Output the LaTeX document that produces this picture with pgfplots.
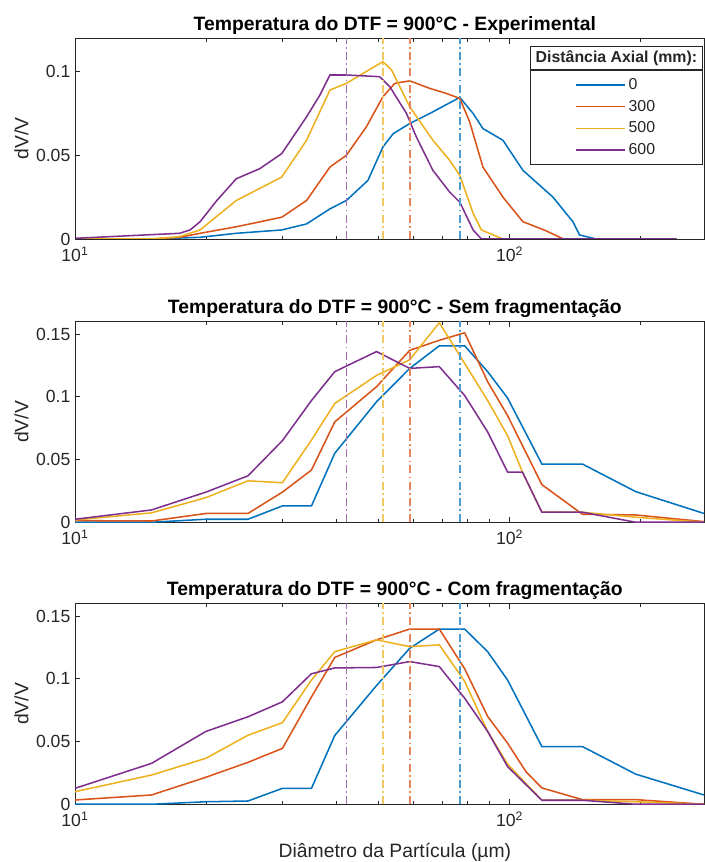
\documentclass[border=0pt]{standalone}
\usepackage{fontspec}
\setmainfont{Liberation Sans}
\usepackage{pgfplots}
\pgfplotsset{compat=1.18}

\definecolor{axcol}{rgb}{0.15,0.15,0.15}
\definecolor{mblue}{RGB}{0,114,189}
\definecolor{morange}{RGB}{217,83,25}
\definecolor{myellow}{RGB}{237,177,32}
\definecolor{mpurple}{RGB}{126,47,142}

\pgfplotsset{
  scale only axis, width=471.75pt, height=150.6pt,
  xmin=10, xmax=280, ymin=0,
  axis line style={axcol, line width=0.5pt},
  tick style={axcol, line width=0.5pt},
  tick align=inside,
  xtick={10,100}, xticklabels={10\textsuperscript{1},10\textsuperscript{2}},
  minor xtick={20,30,40,50,60,70,80,90,200},
  xtick pos=both, ytick pos=left,
  major tick length=4pt, minor tick length=2.5pt,
  ticklabel style={font=\fontsize{13.2}{15}\selectfont, text=axcol},
  xticklabel style={yshift=-2.5pt},
  title style={font=\bfseries\fontsize{14.5}{16}\selectfont, yshift=-7pt, xshift=4pt},
  ylabel style={font=\fontsize{14.5}{16}\selectfont, text=axcol,
    at={(axis description cs:-0.085,0.5)}, anchor=center},
}
\tikzset{
  ser/.style={line width=1.15pt, color=#1},
  vl/.style={line width=1.2pt, color=#1!70!white,
    dash pattern=on 6pt off 2.5pt on 1.2pt off 2.5pt},
}

\begin{document}
\begin{tikzpicture}

% ---- Experimental
\begin{semilogxaxis}[anchor=south west, at={(56.25pt,467.25pt)},
  ymax=0.12, ytick={0,0.05,0.1}, yticklabels={0,0.05,0.1},
  ylabel={dV/V},
  title={Temperatura do DTF = 900°C - Experimental},
  legend style={at={(rel axis cs:0.998,0.8408)}, anchor=north east,
    draw=axcol, line width=0.5pt, fill=white,
    minimum width=129pt, minimum height=70.5pt,
    font=\fontsize{11.9}{13}\selectfont, text=axcol, row sep=2pt,
    nodes={minimum width=0pt, minimum height=14.25pt, inner xsep=2pt, inner ysep=0pt}},
  legend cell align=left,
  legend image code/.code={\draw[#1] (0pt,0pt) -- (37pt,0pt);},
]
\addplot[ser=mblue, mark=none] coordinates {(10,0) (15,0) (19.4,0.001) (23.5,0.0034) (29.9,0.0054) (34.1,0.009) (38.6,0.018) (42.1,0.023) (47.2,0.035) (51.1,0.055) (54,0.063) (58.9,0.069) (65.5,0.075) (76.8,0.0846) (82.4,0.075) (86.8,0.066) (96.5,0.059) (107.3,0.041) (125.8,0.025) (139.8,0.0103) (144.8,0.0024) (158.2,0) (241.7,0)};
\addplot[ser=morange, mark=none] coordinates {(10,0) (15,0) (17.4,0.001) (19.4,0.0034) (23.5,0.0073) (29.9,0.013) (34.1,0.023) (38.6,0.043) (42.1,0.050) (46.8,0.067) (51.1,0.085) (54.4,0.093) (58.9,0.0945) (65.5,0.09) (71.5,0.087) (76.8,0.084) (80.9,0.07) (86.8,0.043) (96.5,0.025) (107.3,0.0103) (120,0.0054) (133,0) (241.7,0)};
\addplot[ser=myellow, mark=none] coordinates {(10,0) (15,0) (17.4,0.0014) (19.4,0.0054) (23.5,0.023) (29.9,0.037) (34.1,0.059) (38.6,0.089) (42.1,0.093) (51.1,0.106) (53.5,0.101) (58.9,0.079) (66.6,0.059) (72.8,0.047) (76.8,0.038) (82.4,0.0153) (86.1,0.0054) (96.5,0) (241.7,0)};
\addplot[ser=mpurple, mark=none] coordinates {(10,0.0004) (17.4,0.0034) (18.4,0.0054) (19.4,0.0103) (21.2,0.023) (23.5,0.036) (26.6,0.042) (29.9,0.051) (34.1,0.073) (36.6,0.086) (38.6,0.098) (42.1,0.098) (50.2,0.097) (53,0.091) (57.9,0.075) (61,0.061) (66.6,0.041) (72.8,0.028) (76.8,0.022) (82.4,0.0054) (86.1,0) (241.7,0)};
\addplot[vl=mblue, mark=none, forget plot] coordinates {(76.8,0) (76.8,0.12)};
\addplot[vl=morange, mark=none, forget plot] coordinates {(58.9,0) (58.9,0.12)};
\addplot[vl=myellow, mark=none, forget plot] coordinates {(51.1,0) (51.1,0.12)};
\addplot[vl=mpurple, mark=none, forget plot] coordinates {(42.1,0) (42.1,0.12)};
\legend{0,300,500,600}
\node[draw=axcol, line width=0.5pt, fill=white, minimum width=129pt, minimum height=17.5pt,
  inner sep=0pt, anchor=south east, text=axcol, font=\bfseries\fontsize{11.9}{13}\selectfont]
  at (rel axis cs:0.998,0.8408) {Distância Axial (mm):};
\end{semilogxaxis}

% ---- Sem fragmentacao
\begin{semilogxaxis}[anchor=south west, at={(56.25pt,254.8pt)},
  ymax=0.16, ytick={0,0.05,0.1,0.15}, yticklabels={0,0.05,0.1,0.15},
  ylabel={dV/V},
  title={Temperatura do DTF = 900°C - Sem fragmentação},
]
\addplot[ser=mblue, mark=none] coordinates {(10,0) (15,0) (20,0.0024) (25,0.0024) (30,0.013) (35,0.013) (39.6,0.055) (49.4,0.096) (58.9,0.1226) (68.9,0.1406) (78.8,0.1406) (89,0.12) (98.9,0.099) (118.6,0.0464) (147,0.0464) (195,0.0244) (280,0.007)};
\addplot[ser=morange, mark=none] coordinates {(10,0.0013) (15,0.001) (20,0.007) (25,0.007) (30,0.024) (35,0.0416) (39.6,0.08) (49.4,0.108) (58.9,0.137) (68.9,0.145) (78.8,0.151) (89,0.112) (98.9,0.085) (118.6,0.030) (147,0.0064) (195,0.0058) (280,0.0005)};
\addplot[ser=myellow, mark=none] coordinates {(10,0.0018) (15,0.0075) (20,0.0196) (25,0.033) (30,0.0315) (35,0.0655) (39.6,0.0947) (49.4,0.117) (58.9,0.1295) (68.9,0.159) (78.8,0.1266) (89,0.097) (98.9,0.069) (107,0.040) (118.6,0.008) (147,0.008) (195,0.004) (280,0)};
\addplot[ser=mpurple, mark=none] coordinates {(10,0.0024) (15,0.0098) (20,0.024) (25,0.037) (30,0.065) (35,0.097) (39.6,0.120) (49.4,0.136) (58.9,0.1226) (68.9,0.124) (78.8,0.101) (89,0.072) (98.9,0.040) (107,0.040) (118.6,0.008) (147,0.008) (195,0) (280,0)};
\addplot[vl=mblue, mark=none, forget plot] coordinates {(76.8,0) (76.8,0.16)};
\addplot[vl=morange, mark=none, forget plot] coordinates {(58.9,0) (58.9,0.16)};
\addplot[vl=myellow, mark=none, forget plot] coordinates {(51.1,0) (51.1,0.16)};
\addplot[vl=mpurple, mark=none, forget plot] coordinates {(42.1,0) (42.1,0.16)};
\end{semilogxaxis}

% ---- Com fragmentacao
\begin{semilogxaxis}[anchor=south west, at={(56.25pt,43.3pt)},
  ymax=0.16, ytick={0,0.05,0.1,0.15}, yticklabels={0,0.05,0.1,0.15},
  ylabel={dV/V},
  title={Temperatura do DTF = 900°C - Com fragmentação},
  xlabel={Diâmetro da Partícula (µm)},
  xlabel style={font=\fontsize{14.5}{16}\selectfont, text=axcol,
    at={(axis description cs:0.5087,-0.267)}, anchor=base},
]
\addplot[ser=mblue, mark=none] coordinates {(10,0) (15,0) (20,0.002) (25,0.0026) (30,0.0127) (35,0.0127) (39.6,0.0548) (49.4,0.0946) (58.9,0.1243) (68.9,0.1396) (78.8,0.1396) (89,0.1216) (98.9,0.099) (118.6,0.046) (147,0.046) (195,0.024) (280,0.0074)};
\addplot[ser=morange, mark=none] coordinates {(10,0.0034) (15,0.0074) (20,0.0215) (25,0.0334) (30,0.0445) (35,0.0855) (39.6,0.117) (49.4,0.131) (58.9,0.1396) (68.9,0.1396) (78.8,0.108) (89,0.070) (98.9,0.0487) (109,0.026) (118.6,0.013) (147,0.0037) (195,0.0037) (280,0)};
\addplot[ser=myellow, mark=none] coordinates {(10,0.01) (15,0.0233) (20,0.0366) (25,0.055) (30,0.065) (35,0.099) (39.6,0.1216) (49.4,0.131) (58.9,0.1256) (68.9,0.127) (78.8,0.098) (89,0.058) (98.9,0.032) (118.6,0.0032) (147,0.0032) (195,0.002) (280,0)};
\addplot[ser=mpurple, mark=none] coordinates {(10,0.0127) (15,0.0326) (20,0.058) (25,0.0697) (30,0.0816) (35,0.104) (39.6,0.1086) (49.4,0.109) (58.9,0.1137) (68.9,0.1097) (78.8,0.0845) (89,0.058) (98.9,0.030) (118.6,0.0032) (147,0.0032) (195,0) (280,0)};
\addplot[vl=mblue, mark=none, forget plot] coordinates {(76.8,0) (76.8,0.16)};
\addplot[vl=morange, mark=none, forget plot] coordinates {(58.9,0) (58.9,0.16)};
\addplot[vl=myellow, mark=none, forget plot] coordinates {(51.1,0) (51.1,0.16)};
\addplot[vl=mpurple, mark=none, forget plot] coordinates {(42.1,0) (42.1,0.16)};
\end{semilogxaxis}

\pgfresetboundingbox
\useasboundingbox (0pt,0pt) rectangle (528pt,646.5pt);
\end{tikzpicture}
\end{document}
